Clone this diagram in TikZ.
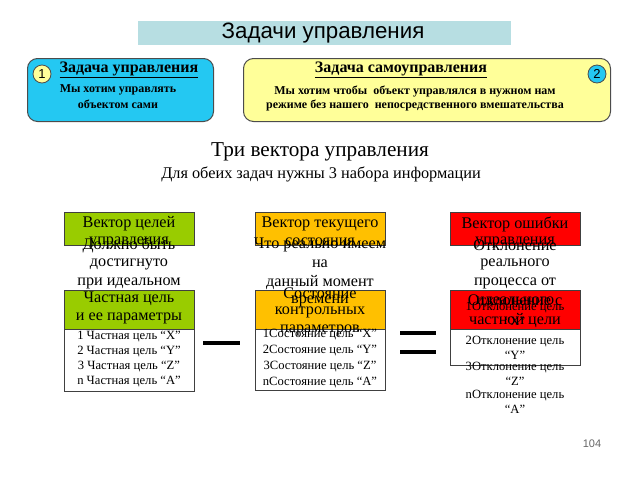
\documentclass[tikz,border=0pt]{standalone}
\usepackage{fontspec}
\setmainfont{Liberation Serif}
\newfontfamily\arialfont{Liberation Sans}
\definecolor{barteal}{RGB}{183,222,226}
\definecolor{taskcyan}{RGB}{36,200,242}
\definecolor{taskyellow}{RGB}{255,255,153}
\definecolor{vgreen}{RGB}{153,204,0}
\definecolor{vorange}{RGB}{255,192,0}
\definecolor{vred}{RGB}{255,0,0}
\tikzset{
  colbox/.style={draw=black!75, line width=0.6pt, anchor=north west,
    minimum width=130pt, inner sep=0pt, outer sep=0pt},
  headtxt/.style={font=\fontsize{16.2}{19}\selectfont, inner sep=0pt},
  listtxt/.style={font=\fontsize{12.6}{13}\selectfont, inner sep=0pt},
  taskbox/.style={draw=black!70, line width=1pt, rounded corners=10pt,
    anchor=north west, inner sep=0pt},
  tasktitle/.style={font=\bfseries\fontsize{16}{16}\selectfont, inner sep=0pt},
  tasktxt/.style={font=\bfseries\fontsize{12}{14}\selectfont, inner sep=0pt},
  numcirc/.style={circle, draw=black!70, line width=0.8pt, minimum size=18pt,
    inner sep=0pt, font=\arialfont\fontsize{13}{13}\selectfont},
  sign/.style={line width=4pt}
}
\begin{document}
\begin{tikzpicture}[x=1pt,y=-1pt]
  \useasboundingbox (0,0) rectangle (640,480);

  % title bar
  \node[fill=barteal, anchor=north west, minimum width=373pt, minimum height=24pt,
    inner sep=0pt] (titlebar) at (138,21) {};
  \node[font=\arialfont\fontsize{22.3}{22}\selectfont, inner sep=0pt] (title)
    at (323,33) {Задачи управления};

  % the two tasks
  \node[taskbox, fill=taskcyan, minimum width=186pt, minimum height=63pt] (task1) at (27,58) {};
  \node[taskbox, fill=taskyellow, minimum width=367pt, minimum height=63pt] (task2) at (243,58) {};
  \node[numcirc, fill=taskyellow] (num1) at (42,74) {1};
  \node[numcirc, fill=taskcyan] (num2) at (597,74) {2};
  \node[tasktitle] (task1title) at (129,70) {\underline{Задача управления}};
  \node[tasktxt] (task1a) at (118,90) {Мы хотим управлять};
  \node[tasktxt] (task1b) at (118,104) {объектом сами};
  \node[tasktitle] (task2title) at (401,70) {\underline{Задача самоуправления}};
  \node[tasktxt] (task2a) at (415,91) {Мы хотим чтобы\ \ объект управлялся в нужном нам};
  \node[tasktxt] (task2b) at (415,105) {режиме без нашего\ \ непосредственного вмешательства};

  \node[font=\fontsize{21.2}{21}\selectfont, inner sep=0pt] (vectors) at (320,152) {Три вектора управления};
  \node[font=\fontsize{16.3}{16}\selectfont, inner sep=0pt] (vectorsub) at (321,174)
    {Для обеих задач нужны 3 набора информации};

  % coloured boxes
  \node[colbox, fill=vgreen, minimum height=33pt] (goalhead) at (64,212) {};
  \node[colbox, fill=vgreen, minimum height=39pt] (goalpar) at (64,290) {};
  \node[colbox, fill=white, minimum height=62pt] (goallist) at (64,329) {};
  \node[colbox, fill=vorange, minimum height=33pt] (statehead) at (255,212) {};
  \node[colbox, fill=vorange, minimum height=39pt] (statepar) at (255,290) {};
  \node[colbox, fill=white, minimum height=61pt] (statelist) at (255,329) {};
  \node[colbox, fill=vred, minimum height=33pt] (errhead) at (450,212) {};
  \node[colbox, fill=vred, minimum height=39pt] (errpar) at (450,290) {};
  \node[colbox, fill=white, minimum height=36pt] (errlist) at (450,329) {};

  % goal vector
  \node[headtxt] (goal1) at (129,224) {Вектор целей};
  \node[headtxt] (goal2) at (129,242) {управления};
  \node[headtxt] (goal3) at (129,245) {Должно быть};
  \node[headtxt] (goal4) at (129,264) {достигнуто};
  \node[headtxt] (goal5) at (129,283) {при идеальном};
  \node[headtxt] (goal6) at (129,299) {Частная цель};
  \node[headtxt] (goal7) at (129,318) {и\ ее параметры};
  \foreach \n/\c [count=\i] in {1/X,2/Y,3/Z,n/A}
    \node[listtxt] (goalitem\i) at (129,{337+14.7*(\i-1)}) {\n\ Частная цель “\c”};

  % state vector
  \node[headtxt] (state1) at (320,224) {Вектор текущего};
  \node[headtxt] (state2) at (320,242) {состояния};
  \node[headtxt] (state3) at (320,245) {Что реально имеем};
  \node[headtxt] (state4) at (320,264) {на};
  \node[headtxt] (state5) at (320,283) {данный момент};
  \node[headtxt] (state6) at (320,301) {времени};
  \node[headtxt] (state7) at (320,293) {Состояние};
  \node[headtxt] (state8) at (320,312) {контрольных};
  \node[headtxt] (state9) at (320,330) {параметров};
  \foreach \n/\c [count=\i] in {1/X,2/Y,3/Z,n/A}
    \node[listtxt] (stateitem\i) at (320,{335+15.7*(\i-1)}) {\n Состояние цель “\c”};

  % error vector
  \node[headtxt] (err1) at (515,224) {Вектор ошибки};
  \node[headtxt] (err2) at (515,242) {управления};
  \node[headtxt] (err3) at (515,245) {Отклонение};
  \node[headtxt] (err4) at (515,264) {реального};
  \node[headtxt] (err5) at (515,283) {процесса от};
  \node[headtxt] (err6) at (515,302) {идеального};
  \node[headtxt] (err7) at (515,300) {Отклонение с};
  \node[headtxt] (err8) at (515,321) {частной цели};
  \foreach \n/\c/\y in {1/X/308,2/Y/342,3/Z/368,n/A/396} {
    \node[listtxt] (erritem\n) at (515,\y) {\n Отклонение цель};
    \node[listtxt] (errquote\n) at (515,\y+13) {“\c”};
  }

  % minus and equals
  \draw[sign] (203,343) -- (240,343);
  \draw[sign] (400,333) -- (436,333);
  \draw[sign] (400,352) -- (436,352);

  \node[font=\arialfont\fontsize{11}{11}\selectfont, text=black!60, inner sep=0pt] (pagenum)
    at (592,444) {104};
\end{tikzpicture}
\end{document}
